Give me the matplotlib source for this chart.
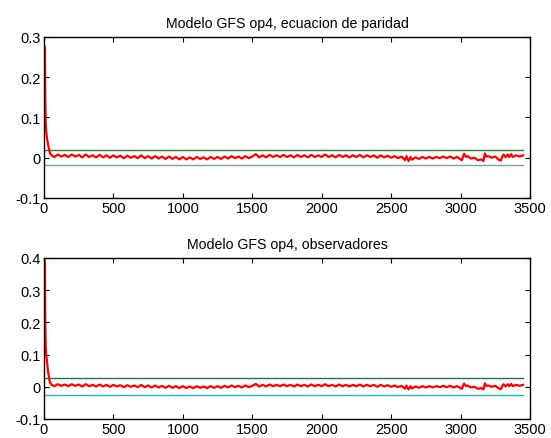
import matplotlib
matplotlib.use("Agg")
import matplotlib.pyplot as plt
from matplotlib.ticker import FuncFormatter, MultipleLocator

plt.rcParams['font.family'] = ['Liberation Sans', 'DejaVu Sans']
plt.rcParams['axes.unicode_minus'] = False

titles = ["Modelo GFS op4, ecuacion de paridad", "Modelo GFS op4, observadores"]

# initial transient (x, value) for each panel
start_x = [5, 7, 9, 12, 16, 21, 26, 32, 42, 55]
start_top = [0.275, 0.27, 0.15, 0.09, 0.065, 0.05, 0.04, 0.028, 0.012, 0.006]
start_bot = [0.39, 0.38, 0.20, 0.13, 0.10, 0.08, 0.06, 0.04, 0.015, 0.006]

# steady part of the residual (same shape in both panels)
steady_x = [75, 100, 125, 150, 175, 200, 225, 250, 275, 300, 325, 350, 375, 400, 425, 450,
            475, 500, 525, 550, 575, 600, 625, 650, 675, 700, 725, 750, 775, 800, 825, 850,
            875, 900, 925, 950, 975, 1000, 1025, 1050, 1075, 1100, 1125, 1150, 1175, 1200,
            1225, 1250, 1275, 1300, 1325, 1350, 1375, 1400, 1425, 1450, 1475, 1500, 1525,
            1550, 1575, 1600, 1625, 1650, 1675, 1700, 1725, 1750, 1775, 1800, 1825, 1850,
            1875, 1900, 1925, 1950, 1975, 2000, 2025, 2050, 2075, 2100, 2125, 2150, 2175,
            2200, 2225, 2250, 2275, 2300, 2325, 2350, 2375, 2400, 2425, 2450, 2475, 2500,
            2525, 2550, 2575, 2600, 2610, 2625, 2640, 2650, 2675, 2700, 2725, 2750, 2775,
            2800, 2825, 2850, 2875, 2900, 2925, 2950, 2975, 3000, 3010, 3025, 3040, 3050,
            3075, 3100, 3125, 3150, 3165, 3175, 3185, 3200, 3225, 3250, 3275, 3290, 3300,
            3310, 3325, 3340, 3350, 3365, 3375, 3400, 3425, 3450]
steady_y = [0.002, 0.008, 0.003, 0.007, 0.002, 0.008, 0.003, 0.007, 0.001, 0.008, 0.002,
            0.006, 0.001, 0.007, 0.001, 0.006, 0.000, 0.006, 0.001, 0.005, -0.001, 0.005,
            0.000, 0.004, -0.001, 0.006, -0.001, 0.004, -0.002, 0.004, -0.002, 0.003,
            -0.003, 0.003, -0.003, 0.002, -0.004, 0.002, -0.004, 0.001, -0.004, 0.002,
            -0.003, 0.001, -0.004, 0.002, -0.003, 0.002, -0.003, 0.003, -0.002, 0.004,
            -0.001, 0.003, -0.002, 0.004, -0.001, 0.003, 0.009, 0.001, 0.006, 0.001, 0.007,
            0.002, 0.006, 0.002, 0.007, 0.002, 0.006, 0.001, 0.007, 0.002, 0.006, 0.001,
            0.007, 0.002, 0.006, 0.002, 0.008, 0.002, 0.006, 0.001, 0.007, 0.002, 0.006,
            0.001, 0.006, 0.002, 0.007, 0.001, 0.006, 0.002, 0.006, 0.000, 0.006, 0.001,
            0.005, 0.000, 0.004, -0.001, 0.003, -0.006, 0.004, -0.008, 0.002, -0.005,
            0.001, -0.003, 0.002, -0.002, 0.002, -0.002, 0.002, -0.001, 0.003, -0.001,
            0.003, -0.002, 0.002, -0.004, -0.006, 0.010, 0.002, 0.004, -0.002, 0.000,
            -0.006, -0.004, -0.008, 0.011, 0.003, 0.004, 0.000, 0.003, -0.005, -0.007,
            0.002, 0.008, 0.001, 0.008, 0.002, 0.009, 0.002, 0.006, 0.003, 0.006]

limit_x = [0, 3450]
upper_limits = [0.020, 0.028]
lower_limits = [-0.017, -0.025]
upper_colors = ["#2f7a3c", "#2a6e5c"]
lower_colors = ["#7fa3a0", "#1cb8b8"]
ylims = [(-0.1, 0.3), (-0.1, 0.4)]

fig = plt.figure(figsize=(5.51, 4.39), dpi=100)
W, H = 551, 439
boxes = [(44, 38, 530, 199), (44, 259, 530, 420)]

fmt = FuncFormatter(lambda v, p: ("%g" % round(v, 6)))

for i in range(2):
    l, t, r, b = boxes[i]
    ax = fig.add_axes([l / W, 1 - b / H, (r - l) / W, (b - t) / H])
    start = start_top if i == 0 else start_bot
    xs = start_x + steady_x
    ys = start + steady_y
    ax.plot(limit_x, [upper_limits[i]] * 2, color=upper_colors[i], lw=1.0)
    ax.plot(limit_x, [lower_limits[i]] * 2, color=lower_colors[i], lw=1.0)
    ax.plot(xs, ys, color="#ff0000", lw=1.6)
    ax.set_xlim(0, 3500)
    ax.set_ylim(*ylims[i])
    ax.xaxis.set_major_locator(MultipleLocator(500))
    ax.yaxis.set_major_locator(MultipleLocator(0.1))
    ax.yaxis.set_major_formatter(fmt)
    ax.tick_params(direction="in", top=True, right=True, length=3.5, width=0.8,
                   labelsize=10.5, pad=2.5, colors="black")
    for s in ax.spines.values():
        s.set_linewidth(1.0)
    ax.set_title(titles[i], fontsize=10.2, pad=7.5)

fig.savefig("out.png", dpi=100)
